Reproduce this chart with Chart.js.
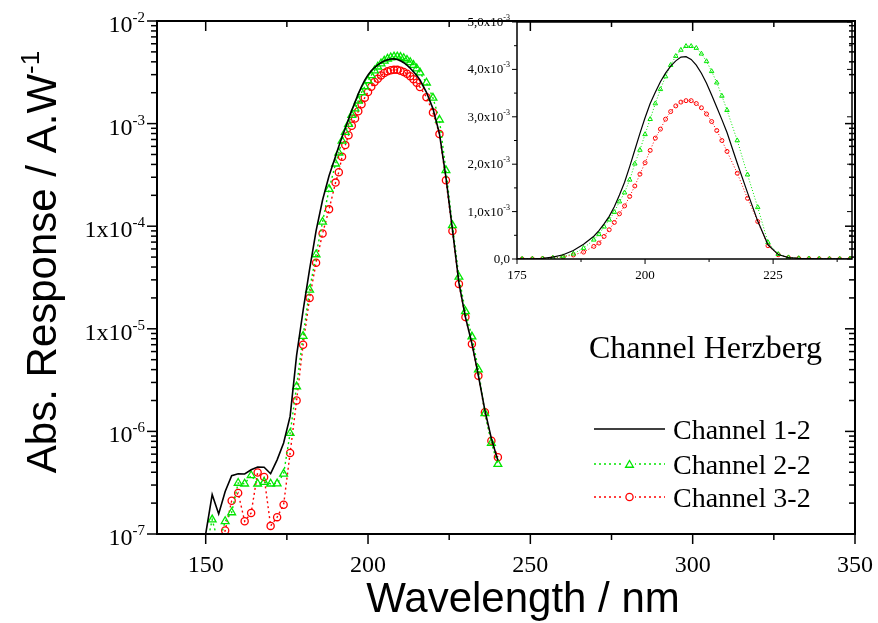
<!DOCTYPE html>
<html>
<head>
<meta charset="utf-8">
<script src="https://cdn.jsdelivr.net/npm/chart.js@4.4.1/dist/chart.umd.min.js"></script>
<style>
  html, body { margin: 0; padding: 0; background: #fff; }
  #wrap { position: relative; width: 878px; height: 623px; }
  #main { position: absolute; left: 0; top: 0; }
  #inset { position: absolute; left: 440px; top: 0; }
</style>
</head>
<body>
<div id="wrap">
  <canvas id="main" width="878" height="623"></canvas>
  <canvas id="inset" width="438" height="290"></canvas>
</div>
<script>
// wavelength grid (nm): 2 nm steps in the wings, 1 nm around the peak
const wavelengths = [
  150, 152, 154, 156, 158, 160, 162, 164, 166, 168, 170, 172, 174, 176, 178, 180, 182, 184, 186, 188,
  190, 191, 192, 193, 194, 195, 196, 197, 198, 199, 200, 201, 202, 203, 204, 205, 206, 207, 208, 209,
  210, 211, 212, 213, 214, 215, 216,
  218, 220, 222, 224, 226, 228, 230, 232, 234, 236, 238, 240
];

// absolute response, A/W
const channel12 = [
  1.0e-7, 2.42e-7, 1.57e-7, 2.6e-7, 3.7e-7, 3.87e-7, 3.85e-7, 4.23e-7, 4.49e-7, 4.47e-7,
  3.87e-7, 5.28e-7, 7.7e-7, 1.4e-6, 5.5e-6, 1.5e-5, 3.8e-5, 9.0e-5, 1.8e-4, 3.1e-4,
  4.8e-4, 6.0e-4, 7.4e-4, 9.0e-4, 1.10e-3, 1.35e-3, 1.62e-3, 1.95e-3, 2.30e-3, 2.65e-3,
  2.98e-3, 3.28e-3, 3.52e-3, 3.74e-3, 3.92e-3, 4.07e-3, 4.18e-3, 4.26e-3, 4.27e-3, 4.21e-3,
  4.09e-3, 3.92e-3, 3.71e-3, 3.46e-3, 3.20e-3, 2.94e-3, 2.67e-3,
  2.02e-3, 1.40e-3, 0.80e-3, 0.30e-3, 9.3e-5, 2.8e-5, 1.3e-5, 7.2e-6, 3.5e-6, 1.6e-6, 8.5e-7, 5.2e-7
];
const channel22 = [
  7e-8, 1.38e-7, 8e-8, 1.33e-7, 1.62e-7, 3.14e-7, 3.09e-7, 3.72e-7, 3.09e-7, 3.2e-7,
  3.09e-7, 3.1e-7, 3.86e-7, 9.6e-7, 2.74e-6, 8.5e-6, 2.4e-5, 5.3e-5, 1.1e-4, 2.3e-4,
  4.06e-4, 5.2e-4, 6.8e-4, 8.27e-4, 9.89e-4, 1.21e-3, 1.40e-3, 1.67e-3, 2.01e-3, 2.30e-3,
  2.63e-3, 2.95e-3, 3.28e-3, 3.58e-3, 3.85e-3, 4.09e-3, 4.28e-3, 4.41e-3, 4.49e-3, 4.49e-3,
  4.45e-3, 4.33e-3, 4.17e-3, 3.96e-3, 3.72e-3, 3.44e-3, 3.14e-3,
  2.50e-3, 1.78e-3, 1.09e-3, 0.35e-3, 1.02e-4, 3.2e-5, 1.48e-5, 8.4e-6, 4.0e-6, 1.5e-6, 7.7e-7, 4.8e-7
];
const channel32 = [
  6e-8, 6e-8, 7e-8, 1.08e-7, 2.11e-7, 2.51e-7, 1.33e-7, 1.6e-7, 3.98e-7, 3.59e-7,
  1.2e-7, 1.46e-7, 1.93e-7, 6.15e-7, 2.0e-6, 7.0e-6, 2.0e-5, 4.4e-5, 8.5e-5, 1.46e-4,
  2.66e-4, 3.36e-4, 4.76e-4, 6.17e-4, 7.71e-4, 9.54e-4, 1.12e-3, 1.32e-3, 1.54e-3, 1.79e-3,
  2.03e-3, 2.29e-3, 2.55e-3, 2.74e-3, 2.95e-3, 3.11e-3, 3.23e-3, 3.31e-3, 3.34e-3, 3.34e-3,
  3.28e-3, 3.19e-3, 3.06e-3, 2.90e-3, 2.71e-3, 2.50e-3, 2.27e-3,
  1.81e-3, 1.28e-3, 0.79e-3, 0.28e-3, 9.0e-5, 2.73e-5, 1.30e-5, 7.1e-6, 3.48e-6, 1.54e-6, 8.1e-7, 5.6e-7
];

const seriesNames = ['Channel 1-2', 'Channel 2-2', 'Channel 3-2'];

// main axes
const xTicksMain = [150, 200, 250, 300, 350];
const yTickValues = [1e-2, 1e-3, 1e-4, 1e-5, 1e-6, 1e-7];
const yTickBases = ['10', '10', '1x10', '1x10', '10', '10'];
const yTickExps = ['-2', '-3', '-4', '-5', '-6', '-7'];

// inset axes
const insetXTicks = [175, 200, 225];
const insetYTickValues = [0, 1e-3, 2e-3, 3e-3, 4e-3, 5e-3];
const insetYTickBases = ['0,0', '1,0x10', '2,0x10', '3,0x10', '4,0x10', '5,0x10'];
const insetYTickExps = ['', '-3', '-3', '-3', '-3', '-3'];

const SERIF = "'Liberation Serif', 'Times New Roman', serif";
const SANS = "'Liberation Sans', Arial, sans-serif";
const GREEN = '#00e600';
const RED = '#ff0000';

const pts = arr => wavelengths.map((w, i) => ({ x: w, y: arr[i] }));

function seg(ctx, x1, y1, x2, y2) {
  ctx.beginPath();
  ctx.moveTo(x1, y1);
  ctx.lineTo(x2, y2);
  ctx.stroke();
}

// text with a raised exponent, anchored left / right / center
function supText(ctx, x, y, base, exp, baseFont, supFont, rise, align) {
  ctx.font = baseFont;
  const wb = ctx.measureText(base).width;
  ctx.font = supFont;
  const we = exp ? ctx.measureText(exp).width : 0;
  let start = x;
  if (align === 'right') start = x - wb - we;
  else if (align === 'center') start = x - (wb + we) / 2;
  ctx.textAlign = 'left';
  ctx.textBaseline = 'alphabetic';
  ctx.font = baseFont;
  ctx.fillText(base, start, y);
  if (exp) {
    ctx.font = supFont;
    ctx.fillText(exp, start + wb, y - rise);
  }
}

function triangle(ctx, x, y, r) {
  ctx.beginPath();
  for (let k = 0; k < 3; k++) {
    const a = k * 2 * Math.PI / 3;
    const px = x + Math.sin(a) * r, py = y - Math.cos(a) * r;
    if (k === 0) ctx.moveTo(px, py); else ctx.lineTo(px, py);
  }
  ctx.closePath();
  ctx.stroke();
}

// keep the plot box fixed: no extra room for edge tick labels
function noEdgePadding(s) {
  s.paddingLeft = 0;
  s.paddingRight = 0;
}

const mainDecor = {
  id: 'mainDecor',
  afterDraw(chart) {
    const { ctx, chartArea: a, scales: { x, y } } = chart;
    ctx.save();
    ctx.strokeStyle = '#000';
    ctx.fillStyle = '#000';

    // ticks: outward on bottom/left, mirrored inward on top/right
    ctx.lineWidth = 1.5;
    for (let v = 150; v <= 350; v += 25) {
      const px = x.getPixelForValue(v);
      const len = v % 50 === 0 ? 10 : 6;
      seg(ctx, px, a.bottom, px, a.bottom + len);
      seg(ctx, px, a.top, px, a.top + len);
    }
    for (let e = -7; e <= -2; e++) {
      for (let m = 1; m <= 9; m++) {
        if (e === -2 && m > 1) break;
        const py = y.getPixelForValue(m * Math.pow(10, e));
        const len = m === 1 ? 10 : 6;
        seg(ctx, a.left - len, py, a.left, py);
        seg(ctx, a.right - len, py, a.right, py);
      }
    }
    ctx.lineWidth = 2;
    ctx.strokeRect(a.left, a.top, a.right - a.left, a.bottom - a.top);

    // y tick labels with exponents
    yTickValues.forEach((v, i) => {
      const py = y.getPixelForValue(v);
      supText(ctx, a.left - 12, py + 11, yTickBases[i], yTickExps[i],
        `24px ${SERIF}`, `15px ${SERIF}`, 10, 'right');
    });

    // axis titles
    ctx.font = `42px ${SANS}`;
    ctx.textAlign = 'center';
    ctx.textBaseline = 'alphabetic';
    ctx.fillText('Wavelength / nm', 523, 612);

    ctx.save();
    ctx.translate(56, 262);
    ctx.rotate(-Math.PI / 2);
    supText(ctx, 0, 0, 'Abs. Response / A.W', '-1', `42px ${SANS}`, `26px ${SANS}`, 17, 'center');
    ctx.restore();

    // annotation
    ctx.font = `32px ${SERIF}`;
    ctx.textAlign = 'left';
    ctx.fillText('Channel Herzberg', 589, 358);

    // legend
    const ly = [429, 464, 497];
    ctx.lineWidth = 1.6;
    ctx.setLineDash([]);
    seg(ctx, 594, ly[0], 665, ly[0]);
    ctx.lineWidth = 1.4;
    ctx.setLineDash([2, 3]);
    ctx.strokeStyle = GREEN;
    seg(ctx, 594, ly[1], 665, ly[1]);
    ctx.strokeStyle = RED;
    seg(ctx, 594, ly[2], 665, ly[2]);
    ctx.setLineDash([]);
    ctx.fillStyle = '#fff';
    ctx.fillRect(624, ly[1] - 5, 11, 10);
    ctx.fillRect(624, ly[2] - 5, 11, 10);
    ctx.lineWidth = 1.3;
    ctx.strokeStyle = GREEN;
    triangle(ctx, 629.5, ly[1] + 1, 4.5);
    ctx.strokeStyle = RED;
    ctx.beginPath();
    ctx.arc(629.5, ly[2], 3.6, 0, 2 * Math.PI);
    ctx.stroke();

    ctx.fillStyle = '#000';
    ctx.font = `28px ${SERIF}`;
    seriesNames.forEach((n, i) => ctx.fillText(n, 673, ly[i] + 10));
    ctx.restore();
  }
};

new Chart(document.getElementById('main'), {
  type: 'line',
  data: {
    datasets: [
      { label: seriesNames[0], data: pts(channel12), borderColor: '#000', borderWidth: 1.6,
        pointRadius: 0, tension: 0 },
      { label: seriesNames[1], data: pts(channel22), borderColor: GREEN, borderWidth: 1.4,
        borderDash: [2, 3], pointStyle: 'triangle', pointRadius: 4.5, pointBorderWidth: 1.3,
        pointBorderColor: GREEN, pointBackgroundColor: 'rgba(0,0,0,0)', tension: 0 },
      { label: seriesNames[2], data: pts(channel32), borderColor: RED, borderWidth: 1.4,
        borderDash: [2, 3], pointStyle: 'circle', pointRadius: 3.6, pointBorderWidth: 1.3,
        pointBorderColor: RED, pointBackgroundColor: 'rgba(0,0,0,0)', tension: 0 }
    ]
  },
  options: {
    responsive: false,
    animation: false,
    layout: { padding: { top: 21, right: 23, left: 0, bottom: 0 } },
    plugins: { legend: { display: false }, tooltip: { enabled: false } },
    scales: {
      x: {
        type: 'linear', min: 135, max: 350,
        afterBuildTicks: s => { s.ticks = xTicksMain.map(v => ({ value: v })); },
        afterFit: s => { s.height = 89; noEdgePadding(s); },
        grid: { display: false }, border: { display: false },
        ticks: { font: { family: SERIF, size: 24 }, color: '#000', padding: 9,
          maxRotation: 0, autoSkip: false }
      },
      y: {
        type: 'logarithmic', min: 1e-7, max: 1e-2,
        afterFit: s => { s.width = 157; },
        grid: { display: false }, border: { display: false },
        ticks: { display: false }
      }
    }
  },
  plugins: [mainDecor]
});

const insetDecor = {
  id: 'insetDecor',
  afterDraw(chart) {
    const { ctx, chartArea: a, scales: { x, y } } = chart;
    ctx.save();
    ctx.strokeStyle = '#000';
    ctx.fillStyle = '#000';
    ctx.lineWidth = 1;
    for (let v = 175; v <= 240; v += 12.5) {
      const px = x.getPixelForValue(v);
      const len = (v - 175) % 25 === 0 ? 5 : 3;
      seg(ctx, px, a.bottom, px, a.bottom + len);
    }
    for (let v = 0; v <= 5.0001e-3; v += 0.5e-3) {
      const py = y.getPixelForValue(v);
      const len = Math.round(v * 2000) % 2 === 0 ? 5 : 3;
      seg(ctx, a.left - len, py, a.left, py);
      seg(ctx, a.right - len, py, a.right, py);
    }
    ctx.lineWidth = 1.5;
    ctx.strokeRect(a.left, a.top, a.right - a.left, a.bottom - a.top);

    insetYTickValues.forEach((v, i) => {
      const py = y.getPixelForValue(v);
      supText(ctx, a.left - 7, py + 4, insetYTickBases[i], insetYTickExps[i],
        `13px ${SERIF}`, `8px ${SERIF}`, 6, 'right');
    });
    ctx.restore();
  }
};

new Chart(document.getElementById('inset'), {
  type: 'line',
  data: {
    datasets: [
      { data: pts(channel12), borderColor: '#000', borderWidth: 1.2, pointRadius: 0, tension: 0 },
      { data: pts(channel22), borderColor: GREEN, borderWidth: 1, borderDash: [1, 2],
        pointStyle: 'triangle', pointRadius: 2.6, pointBorderWidth: 1,
        pointBorderColor: GREEN, pointBackgroundColor: 'rgba(0,0,0,0)', tension: 0 },
      { data: pts(channel32), borderColor: RED, borderWidth: 1, borderDash: [1, 2],
        pointStyle: 'circle', pointRadius: 2, pointBorderWidth: 1,
        pointBorderColor: RED, pointBackgroundColor: 'rgba(0,0,0,0)', tension: 0 }
    ]
  },
  options: {
    responsive: false,
    animation: false,
    layout: { padding: { top: 22, right: 26, left: 0, bottom: 0 } },
    plugins: { legend: { display: false }, tooltip: { enabled: false } },
    scales: {
      x: {
        type: 'linear', min: 175, max: 240.4,
        afterBuildTicks: s => { s.ticks = insetXTicks.map(v => ({ value: v })); },
        afterFit: s => { s.height = 31; noEdgePadding(s); },
        grid: { display: false }, border: { display: false },
        ticks: { font: { family: SERIF, size: 13 }, color: '#000', padding: 1,
          maxRotation: 0, autoSkip: false }
      },
      y: {
        type: 'linear', min: 0, max: 5e-3,
        afterFit: s => { s.width = 77; },
        grid: { display: false }, border: { display: false },
        ticks: { display: false }
      }
    }
  },
  plugins: [insetDecor]
});
</script>
</body>
</html>
